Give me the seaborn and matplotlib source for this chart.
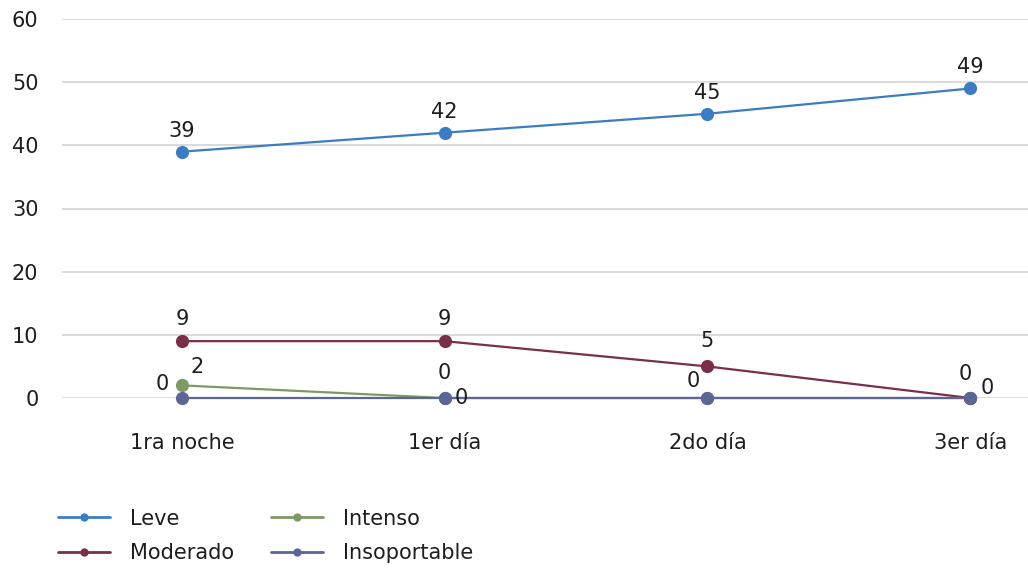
import matplotlib
matplotlib.use("Agg")
import matplotlib.pyplot as plt
import seaborn as sns
import pandas as pd

# Pain intensity counts per time point
periodos = ["1ra noche", "1er día", "2do día", "3er día"]
leve = [39, 42, 45, 49]
moderado = [9, 9, 5, 0]
intenso = [2, 0, 0, 0]
insoportable = [0, 0, 0, 0]

series = ["Leve", "Moderado", "Intenso", "Insoportable"]
valores = [leve, moderado, intenso, insoportable]
colores = ["#3B7DC4", "#7A2E48", "#7C9A62", "#5B6597"]

rows = []
for nombre, vals in zip(series, valores):
    for i, (p, v) in enumerate(zip(periodos, vals)):
        rows.append({"periodo": p, "x": i, "valor": v, "serie": nombre})
df = pd.DataFrame(rows)

sns.set_style("white")
plt.rcParams["font.family"] = ["DejaVu Sans"]
FS = 15
TXT = "#1E1E1E"

fig = plt.figure(figsize=(10.28, 5.72), dpi=100)
ax = fig.add_axes([62 / 1028, (572 - 398) / 572, 1 - 62 / 1028, (398 - 19) / 572])

sns.lineplot(data=df, x="x", y="valor", hue="serie", hue_order=series,
             palette=colores, marker="o", markersize=9.5, markeredgewidth=0,
             linewidth=1.6, ax=ax, legend=True, clip_on=False, zorder=3)

ax.set_xlim(-0.456, 3.22)
ax.set_ylim(0, 60)
ax.set_yticks(range(0, 61, 10))
ax.set_xticks(range(len(periodos)))
ax.set_xticklabels(periodos)
ax.yaxis.grid(True, color="#D4D4D4", linewidth=1.2)
ax.xaxis.grid(False)
for s in ax.spines.values():
    s.set_visible(False)
ax.tick_params(axis="x", length=0, pad=25, labelsize=FS, labelcolor=TXT)
ax.tick_params(axis="y", length=0, pad=17, labelsize=FS, labelcolor=TXT)
ax.set_xlabel("")
ax.set_ylabel("")

# Value labels: (series index, point index) -> (dx px, dy px)
offsets = {
    (0, 0): (0, 21), (0, 1): (0, 21), (0, 2): (0, 21), (0, 3): (0, 21),
    (1, 0): (0, 22), (1, 1): (0, 22), (1, 2): (0, 25), (1, 3): (-5, 24),
    (2, 0): (15, 18), (2, 1): (0, 25), (2, 2): (-14, 17), (2, 3): (17, 10),
    (3, 0): (-20, 14), (3, 1): (17, 0),
}
for (si, pi), (dx, dy) in offsets.items():
    v = valores[si][pi]
    ax.annotate(f"{v}", xy=(pi, v), xytext=(dx * 0.72, dy * 0.72),
                textcoords="offset points", ha="center", va="center",
                fontsize=FS, color=TXT, zorder=5, annotation_clip=False)

handles, labels = ax.get_legend_handles_labels()
ax.get_legend().remove()
for h in handles:
    h.set_markersize(6)
    h.set_linewidth(2)
fig.legend(handles, labels, ncol=2, loc="upper left",
           bbox_to_anchor=(39 / 1028, 1 - 490 / 572), frameon=False,
           fontsize=FS, handlelength=2.5, columnspacing=1.8,
           labelspacing=0.69, handletextpad=0.95, labelcolor=TXT)

fig.savefig("out.png", dpi=100, facecolor="white")
